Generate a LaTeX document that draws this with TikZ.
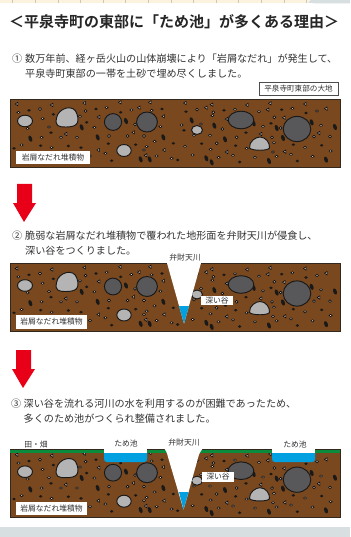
\documentclass[tikz,border=0pt]{standalone}
\usepackage{fontspec}
\setmainfont{Noto Sans CJK JP}
\newfontfamily\boldjp[BoldFont={Noto Sans CJK JP Bold}]{Noto Sans CJK JP}
\definecolor{soil}{RGB}{122,72,30}
\definecolor{edge}{RGB}{50,40,30}
\definecolor{lightrock}{RGB}{180,180,180}
\definecolor{darkrock}{RGB}{88,88,90}
\definecolor{water}{RGB}{0,160,225}
\definecolor{grass}{RGB}{10,140,60}
\definecolor{alarm}{RGB}{232,0,24}
\definecolor{ink}{RGB}{50,50,50}
\definecolor{foot}{RGB}{215,223,224}
\definecolor{cream}{RGB}{252,243,222}
\tikzset{
  lead/.style={inner sep=0pt,anchor=west,text=ink,font=\fontsize{10.1pt}{12pt}\selectfont},
  tag/.style={fill=white,inner sep=0pt,text=ink,font=\fontsize{7.8pt}{9pt}\selectfont},
  rock/.style={draw=black!90,line width=0.95pt},
  downarrow/.style={fill=alarm,draw=none}
}
% Scattered stones of the debris deposit, in a 3x grid local to each half of the panel
\newcommand{\debris}{%
  \foreach \x/\y in {50/27,155/30,253/24,360/22,450/22,417/38,296/66,490/64,197/117,400/112,295/165,492/165,437/181}
    {\filldraw[black,fill=lightrock,line width=.5pt] ({\x/3-1.5},{\y/3+95}) -- ({\x/3+1.1},{\y/3+93.3}) -- ({\x/3+1.1},{\y/3+96.7}) -- cycle;}
  \foreach \x/\y in {30/24,110/29,93/38,216/30,285/25,390/27,453/41,278/44,327/68,155/72,257/117,431/114,155/171,329/170}
    {\filldraw[black,fill=lightrock,line width=.5pt] ({\x/3+173.5},{\y/3+95}) -- ({\x/3+176.1},{\y/3+93.3}) -- ({\x/3+176.1},{\y/3+96.7}) -- cycle;}
  \foreach \x/\y in {87/46,160/58,288/42,362/52,486/42,153/113,122/152,205/153,243/158,42/160,325/146,407/149,335/197,520/145,260/82}
    {\fill[black!90] ({\x/3},{\y/3+95}) ellipse (1.8 and 1.4);}
  \foreach \x/\y in {33/50,147/46,320/44,393/54,27/106,213/113,288/85,182/152,355/149,440/151,80/146,8/195,194/201,367/198}
    {\fill[black!90] ({\x/3+175},{\y/3+95}) ellipse (1.8 and 1.4);}
  \foreach \x/\y in {55/52,128/71,147/96,125/127,183/127,231/127,65/150,155/158,83/100,283/97,320/38,394/45,455/46,464/139,270/183,316/175,240/64,432/165,470/183,515/190,481/95,440/155}
    {\filldraw[black,fill=white,line width=.55pt] ({\x/3},{\y/3+95}) ellipse (1.5 and 1.1);}
  \foreach \x/\y in {112/62,180/43,252/50,352/40,426/48,20/90,78/87,105/121,264/94,438/91,30/154,107/163,215/160,297/143,390/157,467/168,294/171,53/180,131/187,174/181,305/184,348/178,240/187,413/184,57/121}
    {\filldraw[black,fill=white,line width=.55pt] ({\x/3+175},{\y/3+95}) ellipse (1.5 and 1.1);}
  \foreach \x/\y in {120/42,257/48,405/88,327/123,383/123,432/123}
    {\filldraw[black,fill=lightrock,line width=.55pt] ({\x/3},{\y/3+95}) circle (1.4);}
  \foreach \x/\y in {298/67,317/99,142/102,185/127,291/127,417/125,465/125,125/145,66/44,115/52}
    {\filldraw[black,fill=lightrock,line width=.55pt] ({\x/3+175},{\y/3+95}) circle (1.4);}
  \foreach \x/\y in {91/131,245/97,293/127,378/78,490/127,422/193,449/193}
    {\fill[black!90,rotate around={-70:({\x/3},{\y/3+95})}] ({\x/3},{\y/3+95}) ellipse (3.2 and 1.8);}
  \foreach \x/\y in {50/76,118/92,236/85,150/133,305/99,324/129,410/82,480/96,94/190,110/202,282/198,453/194}
    {\fill[black!90,rotate around={-70:({\x/3+175},{\y/3+95})}] ({\x/3+175},{\y/3+95}) ellipse (3.2 and 1.8);}
}
% Boulders common to all three sections
\newcommand{\boulders}{%
  \filldraw[rock,fill=lightrock] (25,121) ellipse (7.5 and 5.8);
  \filldraw[rock,fill=lightrock] (56.5,118) .. controls (58,108) and (74,103) .. (77,114)
     .. controls (80,124) and (76,127) .. (66,127) .. controls (58,127) and (55,126) .. (56.5,118) -- cycle;
  \filldraw[rock,fill=lightrock] (124,150.5) ellipse (7.2 and 6);
  \filldraw[rock,fill=lightrock] (197,130) ellipse (5.5 and 4.5);
  \filldraw[rock,fill=lightrock] (249.5,148) .. controls (249,141) and (256,137) .. (260,137)
     .. controls (266,137) and (270,143) .. (269.5,148) .. controls (268,151) and (252,151) .. (249.5,148) -- cycle;
  \filldraw[rock,fill=darkrock] (113,122) ellipse (8.6 and 8.4);
  \filldraw[rock,fill=darkrock] (147,122) ellipse (10.4 and 10);
  \filldraw[rock,fill=darkrock] (241,120) ellipse (12.8 and 8.8);
  \filldraw[rock,fill=darkrock] (297,129) ellipse (13.8 and 12.6);
}
% One complete ground section, offset vertically
\newcommand{\ground}[1]{%
  \begin{scope}[shift={(0,#1)}]
    \fill[soil] (10,99) rectangle (340,167);
    \begin{scope}
      \clip (10,99) rectangle (340,167);
      \debris
      \boulders
    \end{scope}
    \draw[edge,line width=.9pt] (10,99) rectangle (340,167);
  \end{scope}
}
\begin{document}
\begin{tikzpicture}[x=1pt,y=-1pt]
  \useasboundingbox (0,0) rectangle (350,537);
  \fill[white] (0,0) rectangle (350,537);
  % Page trim
  \fill[cream] (0,0) rectangle (310,2.6);
  \foreach \k in {0,...,13}
    {\draw[black!18!cream,line width=.5pt] ({12.7+22.6*\k},0) -- ({12.7+22.6*\k},2.6);}
  \fill[foot] (308,2.6) -- (311,0) -- (350,0) -- (350,3.5) -- (316,3.5) -- cycle;
  \fill[foot] (0,527) rectangle (350,537);

  \node[inner sep=0pt,anchor=west,text=black!85,font=\boldjp\bfseries\fontsize{15pt}{17pt}\selectfont] (title) at (9,22) {＜平泉寺町の東部に「ため池」が多くある理由＞};

  % Step 1
  \node[lead] (s1a) at (12,59) {①};
  \node[lead] (s1b) at (25,59) {数万年前、経ヶ岳火山の山体崩壊により「岩屑なだれ」が発生して、};
  \node[lead] (s1c) at (25,74) {平泉寺町東部の一帯を土砂で埋め尽くしました。};
  \node[draw=black!70,line width=.7pt,fill=white,inner sep=0pt,minimum width=79pt,minimum height=13.5pt,text=ink,font=\fontsize{7.6pt}{9pt}\selectfont] (land) at (298.5,89) {平泉寺町東部の大地};
  \ground{0}
  \node[tag,minimum width=74pt,minimum height=13.5pt] (deposit1) at (53,157.5) {岩屑なだれ堆積物};

  \fill[downarrow] (17,184) -- (32,184) -- (32,203) -- (36,203) -- (24,222) -- (13,203) -- (17,203) -- cycle;

  % Step 2
  \node[lead] (s2a) at (12,235.5) {②};
  \node[lead] (s2b) at (25,235.5) {脆弱な岩屑なだれ堆積物で覆われた地形面を弁財天川が侵食し、};
  \node[lead] (s2c) at (25,250.5) {深い谷をつくりました。};
  \ground{164.5}
  \fill[white] (167,263) -- (201,263) -- (184,323.5) -- cycle;
  \fill[water] (179,306) -- (189,306) -- (184,323.5) -- cycle;
  \node[tag] (river2) at (185,257.5) {弁財天川};
  \node[tag,minimum width=32pt,minimum height=9.5pt] (valley2) at (217,300.5) {深い谷};
  \node[tag,minimum width=71pt,minimum height=13.5pt] (deposit2) at (51.5,322) {岩屑なだれ堆積物};

  \fill[downarrow] (16,350) -- (31,350) -- (31,369) -- (35,369) -- (23,388) -- (12,369) -- (16,369) -- cycle;

  % Step 3
  \node[lead] (s3a) at (11,403.5) {③};
  \node[lead] (s3b) at (23.5,403.5) {深い谷を流れる河川の水を利用するのが困難であったため、};
  \node[lead] (s3c) at (23.5,418.5) {多くのため池がつくられ整備されました。};
  \ground{350.7}
  \fill[grass] (10,449.5) rectangle (340,453);
  % Valley cut through the surface, with its stream
  \fill[white] (164,448) .. controls (166,450) and (167,453) .. (168,457) -- (183.5,509.5) -- (188,494)
     -- (198,458) .. controls (199,453) and (201,451) .. (203,448) -- cycle;
  \fill[water] (179,492) -- (188.5,492) -- (183.5,509.5) -- cycle;
  % Ponds with their label clearings
  \fill[white] (104,438) rectangle (147,453);
  \fill[white] (272,438) rectangle (315,453);
  \fill[water] (104,453) -- (147,453) -- (147,459) .. controls (147,461) and (146,462) .. (144,462)
     -- (107,462) .. controls (105,462) and (104,461) .. (104,459) -- cycle;
  \fill[water] (272,453) -- (315,453) -- (315,459) .. controls (315,461) and (314,462) .. (312,462)
     -- (275,462) .. controls (273,462) and (272,461) .. (272,459) -- cycle;
  \node[tag] (field) at (36,444.5) {田・畑};
  \node[tag] (pond3a) at (126,443) {ため池};
  \node[tag] (river3) at (184,443) {弁財天川};
  \node[tag] (pond3b) at (295,444) {ため池};
  \node[tag,minimum width=32pt,minimum height=10pt] (valley3) at (218,477) {深い谷};
  \node[tag,minimum width=71pt,minimum height=13pt] (deposit3) at (51.5,508.5) {岩屑なだれ堆積物};
\end{tikzpicture}
\end{document}
